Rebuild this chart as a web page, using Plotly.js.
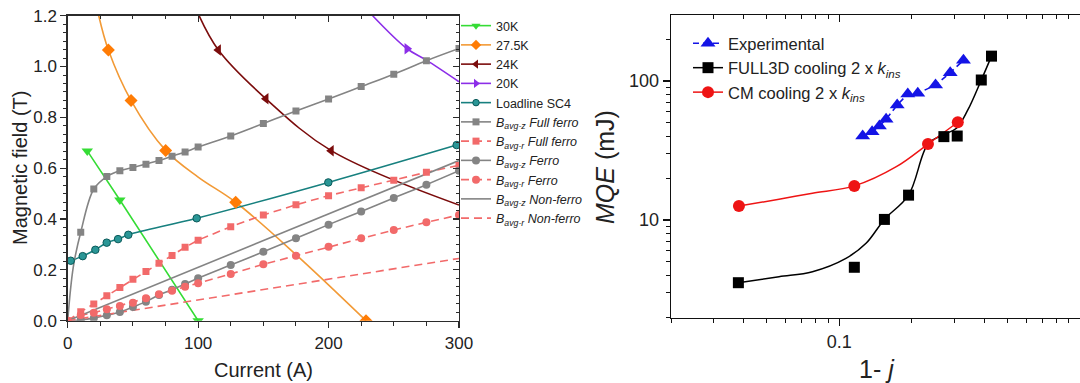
<!DOCTYPE html>
<html><head><meta charset="utf-8">
<script src="https://cdn.plot.ly/plotly-3.0.1.min.js"></script>
<style>html,body{margin:0;padding:0;background:#fff}#chart{width:1080px;height:383px}</style>
</head><body><div id="chart"></div><script>
// ---------- Left panel data (Current A, Field T) ----------
const k30_I = [15, 40, 100];
const k30_B = [0.668, 0.475, 0.0];
const k275_I = [31.2, 48.6, 75.1, 128.8, 228.7];
const k275_B = [1.065, 0.866, 0.670, 0.466, 0.0];
const k275_curveI = [23.8, 31.2, 48.6, 75.1, 100, 128.8, 175, 228.7];
const k275_curveB = [1.2, 1.065, 0.866, 0.670, 0.565, 0.466, 0.26, 0.0];
const k24_I = [115.5, 152, 202];
const k24_B = [1.065, 0.873, 0.669];
const k24_curveI = [100.7, 115.5, 152, 202, 300];
const k24_curveB = [1.2, 1.065, 0.873, 0.669, 0.455];
const k20_I = [260.2];
const k20_B = [1.07];
const k20_curveI = [233.8, 260.2, 275, 300];
const k20_curveB = [1.2, 1.07, 1.025, 0.94];
const load_I = [2.3, 11.5, 21.2, 29.9, 38.6, 46.5, 98.9, 199.8, 298.2];
const load_B = [0.236, 0.254, 0.279, 0.307, 0.321, 0.338, 0.403, 0.544, 0.691];
const load_startI = [0];
const load_startB = [0.232];
const I_std = [10, 20, 30, 40, 50, 60, 70, 80, 90, 100, 125, 150, 175, 200, 225, 250, 275, 300];
const fullFerroZ_B = [0.348, 0.518, 0.567, 0.590, 0.603, 0.616, 0.630, 0.647, 0.664, 0.683, 0.727, 0.776, 0.825, 0.872, 0.921, 0.970, 1.023, 1.071];
const fullFerroZ_startI = [0, 4.3];
const fullFerroZ_startB = [0, 0.212];
const ferroZ_B = [0.003, 0.010, 0.021, 0.034, 0.054, 0.075, 0.101, 0.122, 0.144, 0.167, 0.219, 0.271, 0.324, 0.378, 0.430, 0.483, 0.535, 0.590];
const I_r = [0, 10, 20, 30, 40, 50, 60, 70, 80, 90, 100, 125, 150, 175, 200, 225, 250, 275, 300];
const fullFerroR_B = [0, 0.035, 0.066, 0.098, 0.131, 0.163, 0.194, 0.226, 0.257, 0.289, 0.317, 0.370, 0.416, 0.456, 0.492, 0.523, 0.553, 0.584, 0.611];
const ferroR_B = [0, 0.022, 0.031, 0.045, 0.058, 0.071, 0.088, 0.104, 0.118, 0.134, 0.147, 0.184, 0.222, 0.256, 0.291, 0.324, 0.357, 0.387, 0.416];
const nonFerro_I = [0, 300];
const nonFerroZ_B = [0, 0.63];
const nonFerroR_B = [0, 0.245];
const leftXTicks = [0, 100, 200, 300];
const leftYTicks = [0.0, 0.2, 0.4, 0.6, 0.8, 1.0, 1.2];

// ---------- Right panel data (1-j, MQE mJ) ----------
const exp_x = [0.1251, 0.1369, 0.1468, 0.1565, 0.174, 0.1926, 0.2119, 0.2512, 0.289, 0.328];
const exp_y = [40.2, 43.2, 47.5, 53.0, 67.2, 80.6, 81.6, 93.5, 114.8, 141];
const full3d_x = [0.0381, 0.1155, 0.154, 0.194, 0.272, 0.309, 0.389, 0.429];
const full3d_y = [3.54, 4.57, 10.1, 15.1, 39.8, 40.2, 101.7, 151];
const full3d_fitX = [0.0381, 0.0562, 0.0774, 0.1066, 0.1292, 0.154, 0.194, 0.2336, 0.2693, 0.3067, 0.342, 0.389, 0.429];
const full3d_fitY = [3.54, 3.91, 4.25, 5.30, 6.80, 10.1, 15.1, 35.2, 40.9, 45.7, 61.9, 101.7, 151];
const cm_x = [0.0383, 0.1155, 0.2336, 0.3107];
const cm_y = [12.6, 17.6, 35.2, 50.5];
const cm_fitX = [0.0383, 0.0562, 0.0774, 0.1155, 0.1726, 0.2336, 0.3107];
const cm_fitY = [12.6, 14.1, 15.6, 17.6, 24.2, 35.2, 50.5];
const rightXTicks = [0.1];
const rightXTickText = ['0.1'];
const rightXMinor = [0.02, 0.03, 0.04, 0.05, 0.06, 0.07, 0.08, 0.09, 0.2, 0.3, 0.4, 0.5, 0.6, 0.7, 0.8, 0.9];
const rightYTicks = [10, 100];
const rightYTickText = ['10', '100'];
const rightYMinor = [2, 3, 4, 5, 6, 7, 8, 9, 20, 30, 40, 50, 60, 70, 80, 90, 200, 300];

// ---------- styling ----------
const FONT = 'Arial, "Liberation Sans", sans-serif';
const C = {
  g30: '#35dc35', o275: '#f29a36', o275m: '#ff7c05', r24: '#7b0c0c', p20: '#8c2ee8',
  teal: '#17807f', tealM: '#2a9696', grey: '#848484', red: '#f26a6a',
  blue: '#1414e6', black: '#000000', cmRed: '#ee1414'
};
const LW = 1.6;
const traces = [];

function lineTr(x, y, color, opt) {
  opt = opt || {};
  traces.push({type: 'scatter', mode: 'lines', x: x, y: y, xaxis: opt.xa || 'x', yaxis: opt.ya || 'y',
    showlegend: false, hoverinfo: 'skip',
    line: {color: color, width: opt.w || LW, dash: opt.dash || 'solid', shape: opt.shape || 'linear', smoothing: 1}});
}
function markTr(x, y, sym, size, color, opt) {
  opt = opt || {};
  traces.push({type: 'scatter', mode: 'markers', x: x, y: y, xaxis: opt.xa || 'x', yaxis: opt.ya || 'y',
    showlegend: false,
    marker: {symbol: sym, size: size, color: color, line: {width: opt.lw || 0, color: opt.lc || color}}});
}
function legTr(name, sym, size, mcolor, lcolor, opt) {
  opt = opt || {};
  const t = {type: 'scatter', mode: sym ? 'lines+markers' : 'lines', x: [null], y: [null],
    xaxis: opt.xa || 'x', yaxis: opt.ya || 'y', name: name, legend: opt.legend || 'legend',
    line: {color: lcolor, width: opt.w || LW, dash: opt.dash || 'solid'}};
  if (sym) t.marker = {symbol: sym, size: size, color: mcolor, line: {width: opt.lw || 0, color: opt.lc || mcolor}};
  traces.push(t);
}

// left panel lines
lineTr(k30_I, k30_B, C.g30);
lineTr(k275_curveI, k275_curveB, C.o275, {shape: 'spline'});
lineTr(k24_curveI, k24_curveB, C.r24, {shape: 'spline'});
lineTr(k20_curveI, k20_curveB, C.p20, {shape: 'spline'});
lineTr(load_startI.concat(load_I), load_startB.concat(load_B), C.teal, {shape: 'spline'});
lineTr(fullFerroZ_startI.concat(I_std), fullFerroZ_startB.concat(fullFerroZ_B), C.grey, {shape: 'spline'});
lineTr(I_r, fullFerroR_B, C.red, {dash: '8px,5px'});
lineTr([0].concat(I_std), [0].concat(ferroZ_B), C.grey, {shape: 'spline'});
lineTr(I_r, ferroR_B, C.red, {dash: '8px,5px'});
lineTr(nonFerro_I, nonFerroZ_B, C.grey);
lineTr(nonFerro_I, nonFerroR_B, C.red, {dash: '8px,5px'});
// left panel markers
markTr(I_std, fullFerroZ_B, 'square', 7, C.grey);
markTr(I_r, fullFerroR_B, 'square', 7, C.red);
markTr(I_std, ferroZ_B, 'circle', 8, C.grey);
markTr(I_r, ferroR_B, 'circle', 8, C.red);
markTr(load_I, load_B, 'circle', 7.5, C.tealM, {lw: 1, lc: '#0b5a5a'});
markTr(k30_I, k30_B, 'triangle-down', 10, C.g30);
markTr(k275_I, k275_B, 'diamond', 10, C.o275m);
markTr(k24_I, k24_B, 'triangle-left', 10, C.r24);
markTr(k20_I, k20_B, 'triangle-right', 10, C.p20);
// left legend
legTr('30K', 'triangle-down', 8, C.g30, C.g30);
legTr('27.5K', 'diamond', 8, C.o275m, C.o275);
legTr('24K', 'triangle-left', 8, C.r24, C.r24);
legTr('20K', 'triangle-right', 8, C.p20, C.p20);
legTr('Loadline SC4', 'circle', 6.5, C.tealM, C.teal, {lw: 1, lc: '#0b5a5a'});
legTr('<i>B<sub>avg-z</sub> Full ferro</i>', 'square', 7, C.grey, C.grey);
legTr('<i>B<sub>avg-r</sub> Full ferro</i>', 'square', 7, C.red, C.red, {dash: '8px,5px'});
legTr('<i>B<sub>avg-z</sub> Ferro</i>', 'circle', 8, C.grey, C.grey);
legTr('<i>B<sub>avg-r</sub> Ferro</i>', 'circle', 8, C.red, C.red, {dash: '8px,5px'});
legTr('<i>B<sub>avg-z</sub> Non-ferro</i>', null, 0, C.grey, C.grey);
legTr('<i>B<sub>avg-r</sub> Non-ferro</i>', null, 0, C.red, C.red, {dash: '8px,5px'});

// right panel
const R = {xa: 'x2', ya: 'y2'};
lineTr(exp_x, exp_y, C.blue, {xa: 'x2', ya: 'y2', dash: '6px,4px'});
lineTr(full3d_fitX, full3d_fitY, C.black, {xa: 'x2', ya: 'y2', shape: 'spline', w: 1.5});
lineTr(cm_fitX, cm_fitY, C.cmRed, {xa: 'x2', ya: 'y2', shape: 'spline', w: 1.5});
markTr(full3d_x, full3d_y, 'square', 11, C.black, R);
markTr(cm_x, cm_y, 'circle', 12, C.cmRed, R);
markTr(exp_x, exp_y, 'triangle-up', 13, C.blue, R);
legTr('Experimental', 'triangle-up', 13, C.blue, C.blue, {xa: 'x2', ya: 'y2', legend: 'legend2', dash: '6px,4px'});
legTr('FULL3D cooling 2 x <i>k<sub>ins</sub></i>', 'square', 11, C.black, C.black, {xa: 'x2', ya: 'y2', legend: 'legend2', w: 1.5});
legTr('CM cooling 2 x <i>k<sub>ins</sub></i>', 'circle', 12, C.cmRed, C.cmRed, {xa: 'x2', ya: 'y2', legend: 'legend2', w: 1.5});

// ---------- layout ----------
const W = 1080, H = 383;
const px = v => v / W, py = v => 1 - v / H;
const LDx = [px(67.7), px(459)], LDy = [py(320.7), py(15.7)];
const RDx = [px(671), 1.0], RDy = [py(318), py(15)];
const axLine = {showline: true, linecolor: '#2b2b2b', linewidth: 1.4, showgrid: false, zeroline: false};
const tf = {family: FONT, size: 17, color: '#222'};

const layout = {
  width: W, height: H, margin: {l: 0, r: 0, t: 0, b: 0}, paper_bgcolor: '#fff', plot_bgcolor: 'rgba(0,0,0,0)',
  font: {family: FONT, color: '#222'},
  xaxis: Object.assign({domain: LDx, range: [0, 300], anchor: 'y', ticks: 'outside', ticklen: 6, tickwidth: 1.2,
    tickcolor: '#2b2b2b', tickmode: 'array', tickvals: leftXTicks, tickfont: tf,
    minor: {ticks: 'outside', ticklen: 3.5, dtick: 25, tick0: 0, tickcolor: '#2b2b2b', tickwidth: 1}}, axLine),
  xaxis3: Object.assign({overlaying: 'x', side: 'top', anchor: 'y', range: [0, 300], ticks: 'inside', ticklen: 6,
    tickwidth: 1.2, tickcolor: '#2b2b2b', tickmode: 'array', tickvals: leftXTicks, showticklabels: false,
    minor: {ticks: 'inside', ticklen: 3.5, dtick: 25, tick0: 0, tickcolor: '#2b2b2b', tickwidth: 1}}, axLine),
  yaxis: Object.assign({domain: LDy, range: [0, 1.2], anchor: 'x', ticks: 'outside', ticklen: 6, tickwidth: 1.2,
    tickcolor: '#2b2b2b', tickmode: 'array', tickvals: leftYTicks, tickformat: '.1f', tickfont: tf,
    minor: {ticks: 'outside', ticklen: 3.5, dtick: 0.2 / 6, tick0: 0, tickcolor: '#2b2b2b', tickwidth: 1}}, axLine),
  yaxis3: Object.assign({overlaying: 'y', side: 'right', anchor: 'x', range: [0, 1.2], ticks: 'inside', ticklen: 6,
    tickwidth: 1.2, tickcolor: '#2b2b2b', tickmode: 'array', tickvals: leftYTicks, showticklabels: false,
    minor: {ticks: 'inside', ticklen: 3.5, dtick: 0.2 / 6, tick0: 0, tickcolor: '#2b2b2b', tickwidth: 1}}, axLine),
  xaxis2: Object.assign({domain: RDx, type: 'log', range: [Math.log10(0.02), 0], anchor: 'y2', ticks: 'outside',
    ticklen: 7, tickwidth: 1.2, tickcolor: '#111', tickmode: 'array', tickvals: rightXTicks, ticktext: rightXTickText,
    tickfont: {family: FONT, size: 18, color: '#222'},
    minor: {ticks: 'outside', ticklen: 4, tickmode: 'array', tickvals: rightXMinor, tickcolor: '#111', tickwidth: 1}},
    axLine, {linecolor: '#111'}),
  xaxis4: Object.assign({overlaying: 'x2', side: 'top', anchor: 'y2', type: 'log', range: [Math.log10(0.02), 0],
    ticks: 'inside', ticklen: 7, tickwidth: 1.2, tickcolor: '#111', tickmode: 'array', tickvals: rightXTicks,
    showticklabels: false,
    minor: {ticks: 'inside', ticklen: 4, tickmode: 'array', tickvals: rightXMinor, tickcolor: '#111', tickwidth: 1}},
    axLine, {linecolor: '#111'}),
  yaxis2: Object.assign({domain: RDy, type: 'log', range: [0.295, 2.475], anchor: 'x2', ticks: 'outside',
    ticklen: 7, tickwidth: 1.2, tickcolor: '#111', tickmode: 'array', tickvals: rightYTicks, ticktext: rightYTickText,
    tickfont: {family: FONT, size: 18, color: '#222'},
    minor: {ticks: 'outside', ticklen: 4, tickmode: 'array', tickvals: rightYMinor, tickcolor: '#111', tickwidth: 1}},
    axLine, {linecolor: '#111'}),
  showlegend: true,
  legend: {x: px(456), y: py(11), xanchor: 'left', yanchor: 'top', bgcolor: 'rgba(0,0,0,0)', borderwidth: 0,
    font: {family: FONT, size: 12.5, color: '#222'}, itemwidth: 30, tracegroupgap: 0, traceorder: 'normal'},
  legend2: {x: px(688), y: py(26), xanchor: 'left', yanchor: 'top', bgcolor: 'rgba(0,0,0,0)', borderwidth: 0,
    font: {family: FONT, size: 16.5, color: '#222'}, itemwidth: 30, tracegroupgap: 0, traceorder: 'normal'},
  annotations: [
    {text: 'Magnetic field (T)', xref: 'paper', yref: 'paper', x: px(20), y: py(168), textangle: -90,
      showarrow: false, xanchor: 'center', yanchor: 'middle', font: {family: FONT, size: 20, color: '#222'}},
    {text: 'Current (A)', xref: 'paper', yref: 'paper', x: px(263), y: py(370),
      showarrow: false, xanchor: 'center', yanchor: 'middle', font: {family: FONT, size: 20, color: '#222'}},
    {text: '<i>MQE</i> (mJ)', xref: 'paper', yref: 'paper', x: px(605), y: py(167), textangle: -90,
      showarrow: false, xanchor: 'center', yanchor: 'middle', font: {family: FONT, size: 25, color: '#222'}},
    {text: '1- <i>j</i>', xref: 'paper', yref: 'paper', x: px(877), y: py(369),
      showarrow: false, xanchor: 'center', yanchor: 'middle', font: {family: FONT, size: 25, color: '#222'}}
  ]
};
traces.push({type: 'scatter', x: [null], y: [null], xaxis: 'x3', yaxis: 'y', showlegend: false, hoverinfo: 'skip'});
traces.push({type: 'scatter', x: [null], y: [null], xaxis: 'x', yaxis: 'y3', showlegend: false, hoverinfo: 'skip'});
traces.push({type: 'scatter', x: [null], y: [null], xaxis: 'x4', yaxis: 'y2', showlegend: false, hoverinfo: 'skip'});

Plotly.newPlot('chart', traces, layout, {staticPlot: true, displayModeBar: false});
</script></body></html>
